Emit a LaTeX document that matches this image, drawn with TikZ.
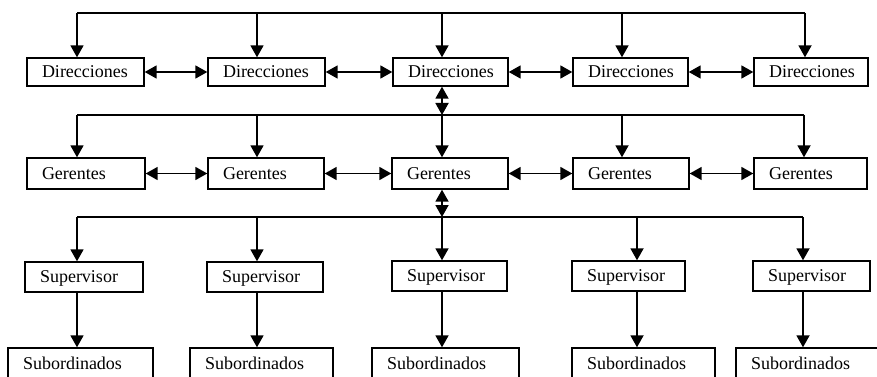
\documentclass[tikz,border=0pt]{standalone}
\usepackage{fontspec}
\setmainfont{Liberation Serif}
\usetikzlibrary{arrows.meta}

\tikzset{
  box/.style={draw, line width=1.4pt, rectangle, inner xsep=15pt,
    text height=11.9pt, text depth=0pt,
    font=\fontsize{18}{20}\selectfont},
  bus/.style={line width=1.8pt},
  link/.style={line width=1.8pt, -{Triangle[length=12pt,width=13pt]}},
  both/.style={line width=1.8pt, {Triangle[length=12pt,width=13pt]}-{Triangle[length=12pt,width=13pt]}}
}

% \orgbox{name}{left}{right}{top}{bottom}{text}
\newcommand\orgbox[6]{%
  \node[box, minimum width={(#3-#2)*1pt}, minimum height={(#5-#4)*1pt}]
    (#1) at ({(#2+#3)/2},{(#4+#5)/2})
    {\makebox[\dimexpr #3pt-#2pt-30pt\relax][l]{#6}};}

\begin{document}
\begin{tikzpicture}[x=1pt, y=-1pt]
\useasboundingbox (0,0) rectangle (877,377);
\clip (0,0) rectangle (877,377);
\fill[white] (0,0) rectangle (877,377);

% Direcciones
\orgbox{d1}{27}{144}{58}{86}{Direcciones}
\orgbox{d2}{208}{325}{58}{86}{Direcciones}
\orgbox{d3}{393}{508}{58}{86}{Direcciones}
\orgbox{d4}{573}{688}{58}{86}{Direcciones}
\orgbox{d5}{754}{868}{58}{86}{Direcciones}

% Gerentes
\orgbox{g1}{27}{145}{158}{189}{Gerentes}
\orgbox{g2}{208}{324}{158}{189}{Gerentes}
\orgbox{g3}{392}{508}{158}{189}{Gerentes}
\orgbox{g4}{573}{689}{158}{189}{Gerentes}
\orgbox{g5}{754}{867}{158}{189}{Gerentes}

% Supervisor
\orgbox{s1}{25}{143}{262}{292}{Supervisor}
\orgbox{s2}{207}{323}{262}{292}{Supervisor}
\orgbox{s3}{392}{507}{261}{291}{Supervisor}
\orgbox{s4}{572}{685}{261}{291}{Supervisor}
\orgbox{s5}{753}{870}{261}{291}{Supervisor}

% Subordinados
\orgbox{b1}{8}{153}{348}{380}{Subordinados}
\orgbox{b2}{190}{333}{348}{380}{Subordinados}
\orgbox{b3}{372}{519}{348}{380}{Subordinados}
\orgbox{b4}{572}{715}{348}{380}{Subordinados}
\orgbox{b5}{736}{890}{348}{380}{Subordinados}

% bus points
\coordinate (t1) at (77,13);  \coordinate (t2) at (257,13);
\coordinate (t3) at (442,13); \coordinate (t4) at (622,13);
\coordinate (t5) at (805,13);
\coordinate (m1) at (77,115);  \coordinate (m2) at (257,115);
\coordinate (m3) at (442,115); \coordinate (m4) at (622,115);
\coordinate (m5) at (804,115);
\coordinate (n1) at (77,217);  \coordinate (n2) at (257,217);
\coordinate (n3) at (442,217); \coordinate (n4) at (637,217);
\coordinate (n5) at (803,217);

% top bus to Direcciones
\draw[bus] (t1) -- (t5);
\foreach \i in {1,...,5} \draw[link] (t\i) -- (t\i |- d\i.north);

% Direcciones side links
\draw[both] (d1.east) -- (d2.west);
\draw[both] (d2.east) -- (d3.west);
\draw[both] (d3.east) -- (d4.west);
\draw[both] (d4.east) -- (d5.west);

% Direcciones to Gerentes
\draw[both] (m3 |- d3.south) -- (m3);
\draw[bus] (m1) -- (m5);
\foreach \i in {1,...,5} \draw[link] (m\i) -- (m\i |- g\i.north);

% Gerentes side links
\draw[both] (g1.east) -- (g2.west);
\draw[both] (g2.east) -- (g3.west);
\draw[both] (g3.east) -- (g4.west);
\draw[both] (g4.east) -- (g5.west);

% Gerentes to Supervisor
\draw[both] (n3 |- g3.south) -- (n3);
\draw[bus] (n1) -- (n5);
\foreach \i in {1,...,5} \draw[link] (n\i) -- (n\i |- s\i.north);

% Supervisor to Subordinados
\foreach \i in {1,...,5} \draw[link] (n\i |- s\i.south) -- (n\i |- b\i.north);
\end{tikzpicture}
\end{document}
